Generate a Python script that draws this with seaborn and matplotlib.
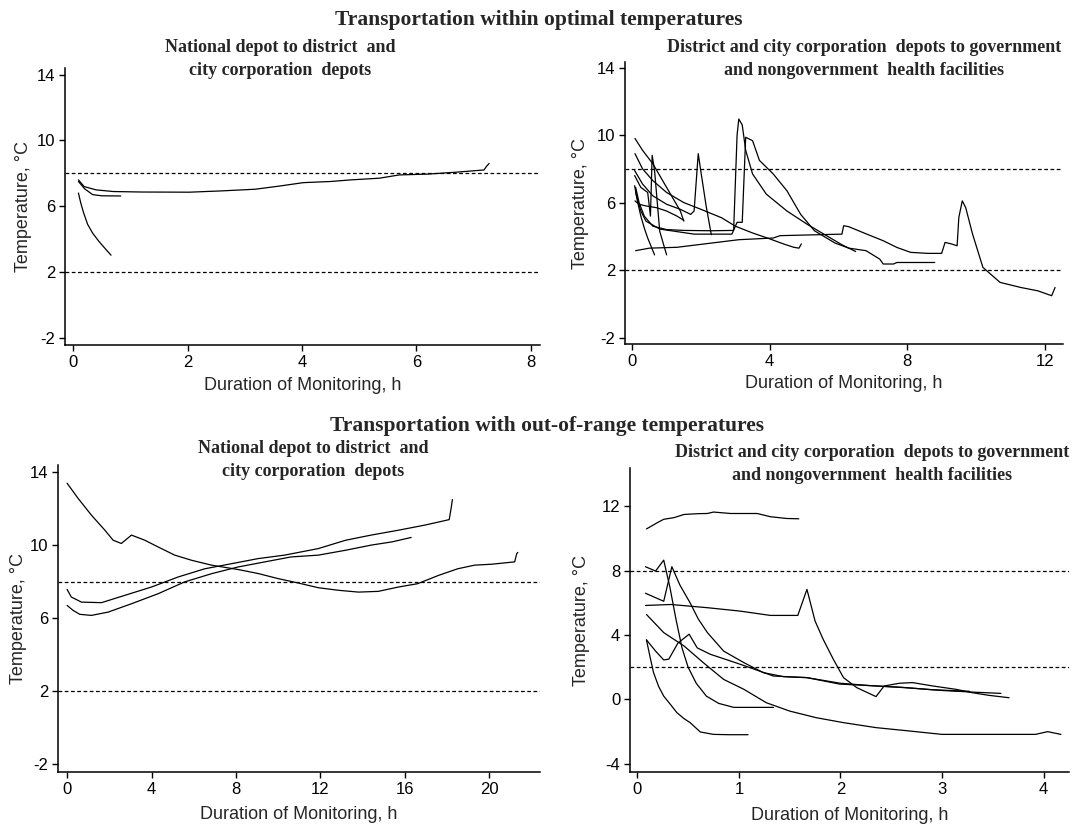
import pandas as pd
import matplotlib.pyplot as plt
import seaborn as sns

# ---- data (hours, deg C) ----
# top left: national depot -> district / city corporation depots, optimal range
p1_trip1_x = [0.09, 0.19, 0.4, 0.7, 1.2, 2.03, 2.6, 3.18, 3.6, 4.02, 4.5, 4.86, 5.35, 5.7, 6.2, 6.67, 7.18, 7.22, 7.27]
p1_trip1_y = [7.6, 7.19, 6.99, 6.89, 6.86, 6.85, 6.93, 7.03, 7.22, 7.43, 7.5, 7.6, 7.7, 7.9, 7.95, 8.06, 8.2, 8.4, 8.6]
p1_trip2_x = [0.09, 0.2, 0.34, 0.5, 0.83]
p1_trip2_y = [7.5, 7.05, 6.7, 6.63, 6.62]
p1_trip3_x = [0.09, 0.13, 0.18, 0.25, 0.34, 0.45, 0.55, 0.66]
p1_trip3_y = [6.8, 6.2, 5.6, 4.9, 4.35, 3.85, 3.45, 3.02]

# top right: district depots -> health facilities, optimal range
p2_a_x = [0.08, 0.3, 0.6, 0.8, 1.0, 1.2, 1.4, 1.5]
p2_a_y = [9.8, 9.1, 8.3, 7.6, 6.9, 6.2, 5.5, 4.9]
p2_b_x = [0.08, 0.3, 0.6, 1.0, 1.5, 2.0, 2.6, 3.0, 3.5, 4.0, 4.4, 4.7, 4.85, 4.92]
p2_b_y = [8.9, 8.0, 7.3, 6.6, 6.0, 5.6, 5.1, 4.6, 4.2, 3.85, 3.55, 3.35, 3.3, 3.55]
p2_c_x = [0.07, 0.3, 0.6, 1.0, 1.4, 1.7, 1.8, 1.92, 2.0, 2.15, 2.3]
p2_c_y = [7.9, 7.1, 6.4, 5.9, 5.6, 5.3, 5.5, 8.9, 7.8, 5.8, 4.1]
p2_d_x = [0.07, 0.25, 0.45, 0.53, 0.58, 0.65, 0.8, 1.0]
p2_d_y = [7.6, 6.9, 6.6, 5.2, 8.8, 7.9, 4.3, 2.9]
p2_e_x = [0.07, 0.15, 0.25, 0.35, 0.45, 0.55, 0.65]
p2_e_y = [7.0, 6.1, 5.2, 4.5, 3.9, 3.4, 2.9]
p2_f_x = [0.1, 0.2, 0.35, 0.6, 1.0, 1.5, 2.3, 2.95, 3.05, 3.1, 3.2, 3.3, 3.5, 3.9, 4.5, 5.1, 5.6, 6.1, 6.5]
p2_f_y = [6.9, 6.0, 5.2, 4.6, 4.4, 4.35, 4.33, 4.35, 10.0, 10.95, 10.6, 9.1, 7.7, 6.5, 5.5, 4.7, 4.1, 3.5, 3.1]
p2_g_x = [0.1, 0.25, 0.4, 0.8, 1.8, 2.9, 3.05, 3.2, 3.3, 3.5, 3.7, 4.1, 4.5, 4.9, 5.3, 5.9, 6.3, 6.8, 7.2, 7.3, 7.6, 7.7, 8.8]
p2_g_y = [6.6, 5.5, 4.9, 4.43, 4.13, 4.13, 4.83, 4.83, 9.87, 9.67, 8.5, 7.7, 6.7, 5.3, 4.33, 3.6, 3.3, 3.15, 2.65, 2.36, 2.36, 2.45, 2.45]
p2_h_x = [0.1, 0.5, 1.3, 2.3, 3.1, 4.1, 4.3, 6.1, 6.15, 6.3, 6.8, 7.3, 7.7, 8.1, 8.6, 9.0, 9.1, 9.3, 9.45, 9.5,
          9.6, 9.7, 9.9, 10.2, 10.7, 11.3, 11.8, 12.2, 12.3]
p2_h_y = [3.15, 3.3, 3.35, 3.6, 3.8, 3.9, 4.04, 4.13, 4.63, 4.57, 4.15, 3.74, 3.34, 3.05, 2.99, 2.99, 3.64, 3.54, 3.44, 5.12,
          6.1, 5.7, 4.13, 2.16, 1.27, 0.97, 0.77, 0.48, 0.97]
p2_i_x = [0.08, 0.2, 0.4, 0.7, 1.0, 1.3, 1.5]
p2_i_y = [6.1, 5.9, 5.8, 5.7, 5.5, 5.2, 4.95]

# bottom left: national depot -> district depots, out of range
p3_a_x = [0, 0.52, 1.15, 1.79, 2.18, 2.57, 3.05, 3.68, 4.31, 5.1, 5.89, 6.84, 8.1, 9.05, 10.0, 10.95, 11.9, 12.85,
          13.8, 14.74, 15.7, 16.6, 17.6, 18.5, 19.3, 20.1, 21.2, 21.3, 21.35]
p3_a_y = [13.4, 12.57, 11.65, 10.82, 10.27, 10.09, 10.55, 10.27, 9.9, 9.45, 9.17, 8.9, 8.66, 8.44, 8.16, 7.92, 7.66, 7.52,
          7.42, 7.46, 7.7, 7.88, 8.34, 8.7, 8.9, 8.95, 9.08, 9.54, 9.6]
p3_b_x = [0, 0.2, 0.68, 1.63, 2.73, 4.0, 5.26, 6.52, 7.79, 9.05, 10.3, 11.9, 13.2, 14.4, 15.7, 16.95, 18.1, 18.2, 18.25]
p3_b_y = [7.57, 7.15, 6.87, 6.84, 7.24, 7.7, 8.25, 8.7, 8.98, 9.26, 9.45, 9.81, 10.27, 10.55, 10.82, 11.1, 11.4, 12.1, 12.5]
p3_c_x = [0, 0.28, 0.6, 1.15, 1.94, 3.05, 4.31, 5.57, 6.84, 8.1, 9.37, 10.6, 11.9, 13.2, 14.4, 15.4, 16.3]
p3_c_y = [6.69, 6.42, 6.2, 6.14, 6.32, 6.78, 7.33, 7.98, 8.43, 8.8, 9.08, 9.35, 9.45, 9.72, 10.0, 10.18, 10.42]

# bottom right: district depots -> health facilities, out of range
p4_a_x = [0.09, 0.2, 0.26, 0.36, 0.46, 0.6, 0.69, 0.75, 0.92, 1.18, 1.31, 1.47, 1.59]
p4_a_y = [10.6, 11.0, 11.2, 11.3, 11.5, 11.55, 11.56, 11.65, 11.56, 11.56, 11.36, 11.25, 11.23]
p4_b_x = [0.08, 0.18, 0.26, 0.32, 0.38, 0.44, 0.5, 0.58, 0.68, 0.8, 0.95, 1.34]
p4_b_y = [8.25, 7.98, 8.66, 7.0, 5.0, 3.2, 2.0, 1.0, 0.2, -0.25, -0.5, -0.5]
p4_c_x = [0.08, 0.26, 0.34, 0.42, 0.52, 0.6, 0.69, 0.85, 1.05, 1.24, 1.44, 1.67, 1.99, 2.3, 2.65, 3.0, 3.3, 3.58]
p4_c_y = [6.6, 6.1, 8.25, 7.1, 6.0, 5.0, 4.15, 3.0, 2.28, 1.66, 1.41, 1.35, 0.95, 0.85, 0.72, 0.55, 0.45, 0.37]
p4_d_x = [0.08, 0.33, 0.69, 1.01, 1.31, 1.58, 1.67, 1.75, 1.83, 1.93, 2.03, 2.16, 2.35, 2.43, 2.58, 2.71, 2.91, 3.14,
          3.3, 3.46, 3.66]
p4_d_y = [5.84, 5.9, 5.7, 5.49, 5.22, 5.22, 6.84, 4.87, 3.73, 2.49, 1.35, 0.73, 0.17, 0.83, 1.0, 1.04, 0.83, 0.62,
          0.41, 0.25, 0.1]
p4_e_x = [0.09, 0.26, 0.46, 0.65, 0.85, 1.05, 1.27, 1.5, 1.76, 2.03, 2.35, 2.68, 3.0, 3.46, 3.92, 4.04, 4.17]
p4_e_y = [5.28, 4.15, 3.32, 2.28, 1.24, 0.62, -0.21, -0.73, -1.14, -1.45, -1.76, -1.97, -2.18, -2.18, -2.18, -2.01, -2.18]
p4_f_x = [0.09, 0.18, 0.26, 0.31, 0.4, 0.51, 0.59, 0.72, 0.92, 1.11, 1.34, 1.67, 2.0, 2.3, 2.6, 2.9, 3.27]
p4_f_y = [3.7, 3.0, 2.45, 2.5, 3.5, 4.05, 3.2, 2.8, 2.38, 1.97, 1.45, 1.35, 1.0, 0.85, 0.75, 0.6, 0.5]
p4_g_x = [0.09, 0.13, 0.16, 0.21, 0.26, 0.33, 0.39, 0.46, 0.52, 0.62, 0.75, 0.9, 1.09]
p4_g_y = [3.7, 2.5, 1.66, 0.8, 0.2, -0.35, -0.83, -1.2, -1.45, -2.03, -2.18, -2.2, -2.2]

main_titles = ["Transportation within optimal temperatures",
               "Transportation with out-of-range temperatures"]
sub_national = "National depot to district  and\ncity corporation  depots"
sub_district = "District and city corporation  depots to government\nand nongovernment  health facilities"


def trips_df(trips):
    frames = []
    for i, (xs, ys) in enumerate(trips):
        frames.append(pd.DataFrame({"hours": xs, "temp": ys, "trip": i}))
    return pd.concat(frames, ignore_index=True)


# rect_px = left, top, right, bottom of the axes in pixels; ylab_px = offset of the y label's right edge
panels = [
    dict(trips=[(p1_trip1_x, p1_trip1_y), (p1_trip2_x, p1_trip2_y), (p1_trip3_x, p1_trip3_y)],
         rect_px=(65, 68, 540, 345), xlim=(-0.145, 8.16), ylim=(-2.44, 14.4),
         xticks=[0, 2, 4, 6, 8], yticks=[-2, 2, 6, 10, 14],
         title=sub_national, title_px=(280, 59), ylab_px=33, xlab_px=32),
    dict(trips=[(p2_a_x, p2_a_y), (p2_b_x, p2_b_y), (p2_c_x, p2_c_y), (p2_d_x, p2_d_y), (p2_e_x, p2_e_y),
                (p2_f_x, p2_f_y), (p2_g_x, p2_g_y), (p2_h_x, p2_h_y), (p2_i_x, p2_i_y)],
         rect_px=(625, 62, 1063, 344), xlim=(-0.21, 12.53), ylim=(-2.38, 14.33),
         xticks=[0, 4, 8, 12], yticks=[-2, 2, 6, 10, 14],
         title=sub_district, title_px=(864, 59), ylab_px=36, xlab_px=31),
    dict(trips=[(p3_a_x, p3_a_y), (p3_b_x, p3_b_y), (p3_c_x, p3_c_y)],
         rect_px=(58, 465, 540, 772), xlim=(-0.43, 22.4), ylim=(-2.46, 14.4),
         xticks=[0, 4, 8, 12, 16, 20], yticks=[-2, 2, 6, 10, 14],
         title=sub_national, title_px=(313, 460), ylab_px=31, xlab_px=34),
    dict(trips=[(p4_a_x, p4_a_y), (p4_b_x, p4_b_y), (p4_c_x, p4_c_y), (p4_d_x, p4_d_y), (p4_e_x, p4_e_y),
                (p4_f_x, p4_f_y), (p4_g_x, p4_g_y)],
         rect_px=(630, 468, 1069, 772), xlim=(-0.072, 4.25), ylim=(-4.52, 14.39),
         xticks=[0, 1, 2, 3, 4], yticks=[-4, 0, 4, 8, 12],
         title=sub_district, title_px=(872, 464), ylab_px=40, xlab_px=35),
]

sns.set_style("ticks")
plt.rcParams['font.family'] = ['Liberation Sans', 'DejaVu Sans']
plt.rcParams['axes.unicode_minus'] = False

W, H = 1077, 824
fig = plt.figure(figsize=(W / 100, H / 100), dpi=100)
serif = ['Liberation Serif', 'DejaVu Serif']

for p in panels:
    l, t, r, b = p["rect_px"]
    ax = fig.add_axes([l / W, 1 - b / H, (r - l) / W, (b - t) / H])
    df = trips_df(p["trips"])
    sns.lineplot(data=df, x="hours", y="temp", units="trip", estimator=None, sort=False,
                 color="black", linewidth=0.9, ax=ax)
    for lim in (2, 8):
        ax.axhline(lim, color="black", linewidth=0.9, linestyle=(0, (3, 2)))
    ax.set_xlim(*p["xlim"])
    ax.set_ylim(*p["ylim"])
    ax.set_xticks(p["xticks"])
    ax.set_yticks(p["yticks"])
    ax.tick_params(direction="out", length=4, width=1, labelsize=12, colors="black", pad=3)
    sns.despine(ax=ax)
    for s in ("left", "bottom"):
        ax.spines[s].set_linewidth(1.1)
        ax.spines[s].set_color("black")
    ax.set_xlabel("Duration of Monitoring, h", fontsize=13)
    ax.set_ylabel("Temperature, °C", fontsize=13)
    ax.xaxis.set_label_coords(0.5, -p["xlab_px"] / (b - t))
    ax.yaxis.set_label_coords(-p["ylab_px"] / (r - l), 0.5)
    tx, ty = p["title_px"]
    fig.text(tx / W, 1 - ty / H, p["title"], ha="center", va="center", fontsize=13,
             fontweight="bold", family=serif, linespacing=1.4)

fig.text(0.5, 1 - 20 / H, main_titles[0], ha="center", va="center", fontsize=15.5,
         fontweight="bold", family=serif)
fig.text(547 / W, 1 - 426 / H, main_titles[1], ha="center", va="center", fontsize=15.5,
         fontweight="bold", family=serif)

plt.savefig("out.png", dpi=100)
plt.close()
